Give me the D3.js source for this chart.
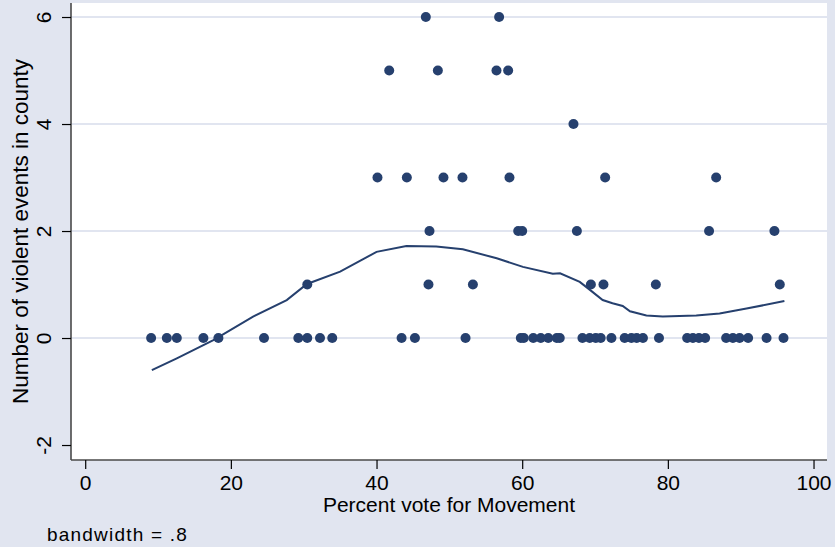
<!DOCTYPE html>
<html>
<head>
<meta charset="utf-8">
<script src="https://cdn.jsdelivr.net/npm/d3@7"></script>
<style>
  html, body { margin: 0; padding: 0; background: #e1e5f0; }
  svg { display: block; }
  text { font-family: "Liberation Sans", Arial, sans-serif; fill: #000; }
</style>
</head>
<body>
<svg id="chart" width="835" height="547"></svg>
<script>
// Counties: vote share for the Movement (%) and count of violent events
const voteShare = [
  9.05, 11.21, 12.58, 16.23, 18.29, 24.55, 29.26, 30.49, 32.24, 33.92,
  43.44, 45.27, 52.22, 59.81, 60.22, 61.52, 62.55, 63.58, 64.75, 65.16,
  68.27, 69.27, 70.10, 70.78, 72.25, 74.07, 74.99, 75.72, 76.58, 78.78,
  82.65, 83.44, 84.27, 85.12, 88.00, 88.93, 89.85, 91.02, 93.55, 95.88,
  30.49, 47.13, 53.23, 69.43, 71.16, 78.35, 95.37,
  47.27, 59.45, 60.00, 67.51, 85.66, 94.63,
  40.13, 44.16, 49.19, 51.80, 58.25, 71.39, 86.63,
  67.04,
  41.74, 48.42, 56.47, 58.07,
  46.77, 56.83
];
const violentEvents = [
  0, 0, 0, 0, 0, 0, 0, 0, 0, 0,
  0, 0, 0, 0, 0, 0, 0, 0, 0, 0,
  0, 0, 0, 0, 0, 0, 0, 0, 0, 0,
  0, 0, 0, 0, 0, 0, 0, 0, 0, 0,
  1, 1, 1, 1, 1, 1, 1,
  2, 2, 2, 2, 2, 2,
  3, 3, 3, 3, 3, 3, 3,
  4,
  5, 5, 5, 5,
  6, 6
];

// Lowess smooth (bandwidth .8)
const smoothX = [9.15, 12.58, 17.6, 23.05, 27.67, 30.45, 35.0, 40.0, 44.1, 48.2,
  51.85, 56.5, 60.1, 64.2, 65.2, 67.9, 69.3, 71.05, 72.4, 73.8,
  74.8, 77.05, 79.3, 83.9, 87.1, 90.8, 96.0];
const smoothY = [-0.60, -0.38, -0.04, 0.40, 0.71, 1.01, 1.24, 1.61, 1.72, 1.71,
  1.66, 1.49, 1.33, 1.20, 1.21, 1.05, 0.90, 0.71, 0.65, 0.60,
  0.50, 0.42, 0.40, 0.42, 0.46, 0.55, 0.69];

const xTicks = [0, 20, 40, 60, 80, 100];
const yTicks = [-2, 0, 2, 4, 6];
const yGridTicks = [0, 2, 4, 6];

const navy = "#26406e";
const svg = d3.select("#chart");
const plainNumber = d => String(d);

const plotL = 71, plotR = 827, plotT = 3, plotB = 460;
const x = d3.scaleLinear().domain([-1.95, 101.85]).range([plotL, plotR]);
const y = d3.scaleLinear().domain([-2.28, 6.262]).range([plotB, plotT]);

// Plot region
svg.append("rect")
  .attr("x", plotL).attr("y", plotT)
  .attr("width", plotR - plotL).attr("height", plotB - plotT)
  .attr("fill", "#ffffff");

// Horizontal grid
svg.append("g")
  .selectAll("line")
  .data(yGridTicks)
  .join("line")
  .attr("x1", plotL).attr("x2", plotR)
  .attr("y1", d => y(d)).attr("y2", d => y(d))
  .attr("stroke", "#e1e5f0")
  .attr("stroke-width", 2);

// Y axis
const yAxis = svg.append("g")
  .attr("transform", `translate(${plotL},0)`)
  .call(d3.axisLeft(y).tickValues(yTicks).tickSize(9).tickPadding(0).tickFormat(plainNumber));
yAxis.select(".domain").attr("stroke", "#4a4a4a").attr("stroke-width", 1.6)
  .attr("d", `M0,${plotT}V${plotB}`);
yAxis.selectAll(".tick line").attr("stroke", "#000").attr("stroke-width", 1.2);
yAxis.selectAll(".tick text")
  .attr("x", 0).attr("y", 0).attr("dy", null)
  .attr("text-anchor", "middle")
  .attr("transform", "translate(-20,0) rotate(-90)")
  .style("font-size", "21px")
  .style("font-family", '"Liberation Sans", Arial, sans-serif')
  .attr("fill", "#000");

// X axis
const xAxis = svg.append("g")
  .attr("transform", `translate(0,${plotB})`)
  .call(d3.axisBottom(x).tickValues(xTicks).tickSize(9).tickPadding(6).tickFormat(plainNumber));
xAxis.select(".domain").attr("stroke", "#4a4a4a").attr("stroke-width", 1.6)
  .attr("d", `M${plotL},0H${plotR}`);
xAxis.selectAll(".tick line").attr("stroke", "#000").attr("stroke-width", 1.2);
xAxis.selectAll(".tick text")
  .style("font-size", "21px")
  .style("font-family", '"Liberation Sans", Arial, sans-serif')
  .attr("fill", "#000");

// Points
svg.append("g")
  .selectAll("circle")
  .data(voteShare.map((v, i) => [v, violentEvents[i]]))
  .join("circle")
  .attr("cx", d => x(d[0]))
  .attr("cy", d => y(d[1]))
  .attr("r", 5)
  .attr("fill", navy);

// Lowess curve
const line = d3.line().x(d => x(d[0])).y(d => y(d[1]));
svg.append("path")
  .datum(smoothX.map((v, i) => [v, smoothY[i]]))
  .attr("d", line)
  .attr("fill", "none")
  .attr("stroke", navy)
  .attr("stroke-width", 2);

// Axis titles
svg.append("text")
  .attr("transform", `translate(28,${(plotT + plotB) / 2}) rotate(-90)`)
  .attr("text-anchor", "middle")
  .style("font-size", "22.5px")
  .text("Number of violent events in county");

svg.append("text")
  .attr("x", (plotL + plotR) / 2)
  .attr("y", 512)
  .attr("text-anchor", "middle")
  .style("font-size", "21px")
  .text("Percent vote for Movement");

// Note
svg.append("text")
  .attr("x", 47)
  .attr("y", 541)
  .style("font-size", "19px")
  .style("letter-spacing", "1.2px")
  .text("bandwidth = .8");
</script>
</body>
</html>
